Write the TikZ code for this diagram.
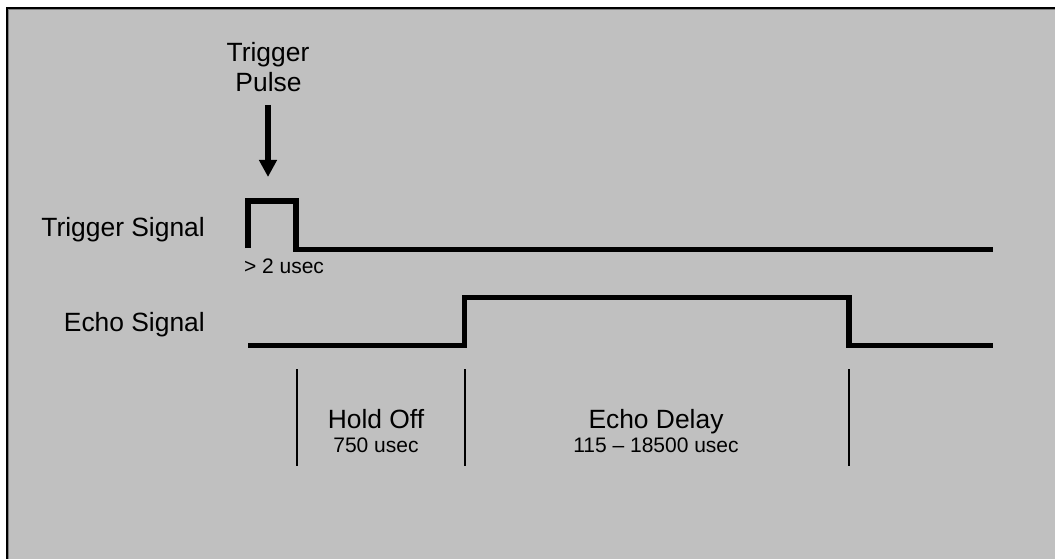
\documentclass[tikz,border=0pt]{standalone}
\usepackage{fontspec}
\setmainfont{Liberation Sans}
\usetikzlibrary{arrows.meta}
\definecolor{panel}{HTML}{C0C0C0}
\definecolor{edge}{HTML}{808080}
\begin{document}
\begin{tikzpicture}[x=1pt,y=-1pt,
  big/.style={inner sep=0pt,font=\fontsize{26.4}{30}\selectfont},
  small/.style={inner sep=0pt,font=\fontsize{21}{24}\selectfont},
  signal/.style={line width=5.5pt,line join=miter},
  marker/.style={line width=2pt},
  pulsearrow/.style={line width=5.6pt,-{Triangle[width=17pt,length=17pt]}}]
\useasboundingbox (0,0) rectangle (1055,559);
\fill[white] (0,0) rectangle (1055,559);
\fill[panel] (6,7) rectangle (1055,559);
\draw[edge,line width=1pt] (8.5,559) -- (8.5,9.5) -- (1055,9.5);
\draw[black,line width=2pt] (7,559) -- (7,7.7) -- (1055,7.7);
% labels
\node[big,anchor=base] (tp1) at (268,62) {Trigger};
\node[big,anchor=base] (tp2) at (268.5,92) {Pulse};
\node[big,anchor=base east] (ts) at (205,236) {Trigger Signal};
\node[big,anchor=base east] (es) at (205,331) {Echo Signal};
\node[small,anchor=base] (w) at (284,273) {> 2 usec};
\node[big,anchor=base] (ho) at (376,428) {Hold Off};
\node[small,anchor=base] (hot) at (376,452) {750 usec};
\node[big,anchor=base] (ed) at (656,428) {Echo Delay};
\node[small,anchor=base] (edt) at (656,452) {115 – 18500 usec};
% arrow
\coordinate (a0) at (268,105);
\coordinate (a1) at (268,177);
\draw[pulsearrow] (a0) -- (a1);
% trigger signal
\coordinate (t0) at (248,248);
\coordinate (t1) at (248,201);
\coordinate (t2) at (296,201);
\coordinate (t3) at (296,249.5);
\coordinate (t4) at (992.5,249.5);
\draw[signal] (t0) -- (t1) -- (t2) -- (t3) -- (t4);
% echo signal
\coordinate (e0) at (248,345.5);
\coordinate (e1) at (464.5,345.5);
\coordinate (e2) at (464.5,297.5);
\coordinate (e3) at (849,297.5);
\coordinate (e4) at (849,345.5);
\coordinate (e5) at (992.5,345.5);
\draw[signal] (e0) -- (e1) -- (e2) -- (e3) -- (e4) -- (e5);
% markers
\coordinate (m1a) at (296.5,369); \coordinate (m1b) at (296.5,466);
\coordinate (m2a) at (464.5,369); \coordinate (m2b) at (464.5,466);
\coordinate (m3a) at (849,369); \coordinate (m3b) at (849,466);
\draw[marker] (m1a) -- (m1b);
\draw[marker] (m2a) -- (m2b);
\draw[marker] (m3a) -- (m3b);
\end{tikzpicture}
\end{document}
